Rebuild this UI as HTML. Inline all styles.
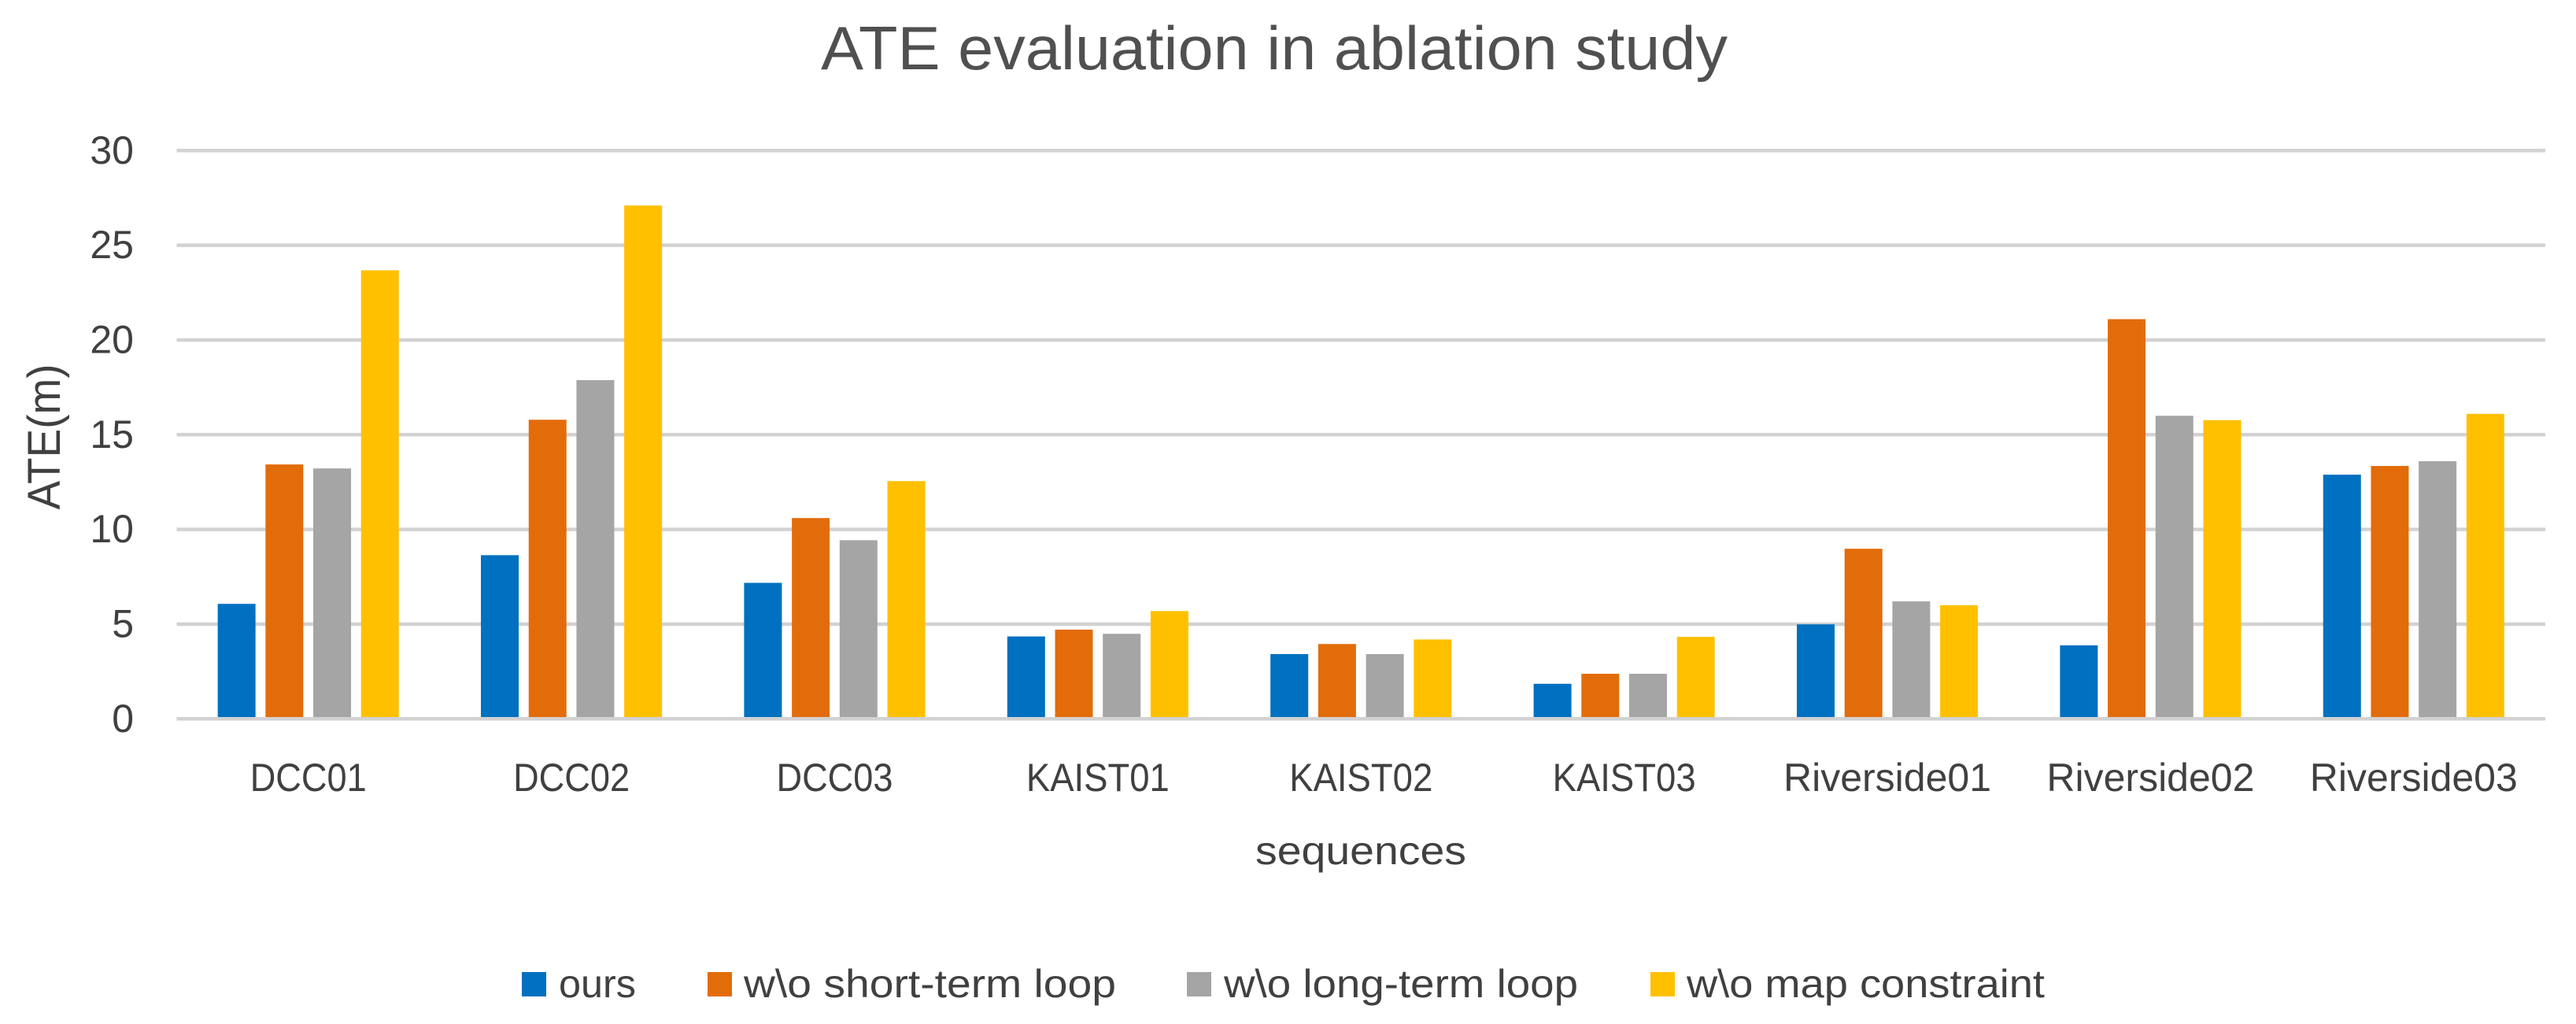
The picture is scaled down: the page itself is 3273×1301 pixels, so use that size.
<!DOCTYPE html>
<html lang="en">
<head>
<meta charset="utf-8">
<title>ATE evaluation in ablation study</title>
<style>
html,body{margin:0;padding:0;background:#fff;}
svg{display:block;}
text{font-family:"Liberation Sans",sans-serif;fill:#404040;}
</style>
</head>
<body>
<svg id="chart" xmlns="http://www.w3.org/2000/svg" width="3273" height="1301" viewBox="0 0 3273 1301">
  <rect x="0" y="0" width="3273" height="1301" fill="#ffffff"/>
  <text x="1043" y="88" font-size="78" textLength="1152" lengthAdjust="spacingAndGlyphs" style="fill:#505050">ATE evaluation in ablation study</text>
  <g id="grid"></g>
  <g id="bars"></g>
  <g id="baseline"></g>
  <g id="yticks"></g>
  <g id="xticks"></g>
  <text transform="translate(76 555) rotate(-90)" font-size="58" text-anchor="middle" textLength="185" lengthAdjust="spacingAndGlyphs">ATE(m)</text>
  <text x="1729" y="1098" font-size="50" text-anchor="middle" textLength="268" lengthAdjust="spacingAndGlyphs">sequences</text>
  <g id="legend">
    <g>
      <rect x="663" y="1235" width="31" height="31" fill="#0070C0"/>
      <text x="710" y="1267" font-size="50" textLength="98" lengthAdjust="spacingAndGlyphs">ours</text>
    </g>
    <g>
      <rect x="899" y="1235" width="31" height="31" fill="#E36C0A"/>
      <text x="945" y="1267" font-size="50" textLength="473" lengthAdjust="spacingAndGlyphs">w\o short-term loop</text>
    </g>
    <g>
      <rect x="1508" y="1235" width="31" height="31" fill="#A5A5A5"/>
      <text x="1555" y="1267" font-size="50" textLength="450" lengthAdjust="spacingAndGlyphs">w\o long-term loop</text>
    </g>
    <g>
      <rect x="2097" y="1235" width="31" height="31" fill="#FFC000"/>
      <text x="2143" y="1267" font-size="50" textLength="455" lengthAdjust="spacingAndGlyphs">w\o map constraint</text>
    </g>
  </g>
</svg>
<script>
const categories = ["DCC01","DCC02","DCC03","KAIST01","KAIST02","KAIST03","Riverside01","Riverside02","Riverside03"];
const categoryLabelWidths = [148,148,148,182,182,182,264,264,264];
const yTicks = [0,5,10,15,20,25,30];
const ours = [6.07,8.64,7.18,4.35,3.42,1.85,4.99,3.88,12.89];
const shortTerm = [13.43,15.79,10.6,4.71,3.95,2.38,8.98,21.1,13.35];
const longTerm = [13.22,17.88,9.43,4.49,3.42,2.38,6.2,16.0,13.6];
const mapConstraint = [23.68,27.1,12.55,5.69,4.19,4.33,6.0,15.77,16.1];
const seriesValues = [ours, shortTerm, longTerm, mapConstraint];
const seriesNames = ["ours","short-term","long-term","map-constraint"];
const seriesColors = ["#0070C0","#E36C0A","#A5A5A5","#FFC000"];

const NS = "http://www.w3.org/2000/svg";
const plotLeft = 224.5, plotRight = 3234, plotTop = 191.3, plotBottom = 913.3;
const yMax = 30;
const barWidth = 48, barPitch = 60.7;
const groupWidth = (plotRight - plotLeft) / categories.length;
function yScale(v){ return plotBottom - (v / yMax) * (plotBottom - plotTop); }
function xCenter(i){ return plotLeft + groupWidth * (i + 0.5); }
function make(tag, attrs, parent){
  const el = document.createElementNS(NS, tag);
  for (const k in attrs) el.setAttribute(k, attrs[k]);
  parent.appendChild(el);
  return el;
}
const gridG = document.getElementById("grid");
const yG = document.getElementById("yticks");
yTicks.forEach(function(t){
  const y = yScale(t);
  const line = make("line", {x1:plotLeft, x2:plotRight, y1:y, y2:y, stroke:"#D2D2D2", "stroke-width":4.5}, t === 0 ? document.getElementById("baseline") : gridG);
  
  
  const label = make("text", {x:170, y:y + 16.5, "font-size":50, "text-anchor":"end"}, yG);
  
  
  label.textContent = String(t);
});
const barsG = document.getElementById("bars");
const xG = document.getElementById("xticks");
categories.forEach(function(cat, i){
  const cx = xCenter(i);
  seriesValues.forEach(function(vals, s){
    const x = cx + (s - 1.5) * barPitch - barWidth / 2;
    const top = yScale(vals[i]);
    const bar = make("rect", {x:x, y:top, width:barWidth, height:plotBottom - top, fill:seriesColors[s]}, barsG);
    
    
    bar.setAttribute('data-series', seriesNames[s]);
    bar.setAttribute('data-category', cat);
  });
  const label = make("text", {x:cx, y:1005, "font-size":50, "text-anchor":"middle", textLength:categoryLabelWidths[i], lengthAdjust:"spacingAndGlyphs"}, xG);
  
  
  label.textContent = cat;
});
</script>
</body>
</html>
